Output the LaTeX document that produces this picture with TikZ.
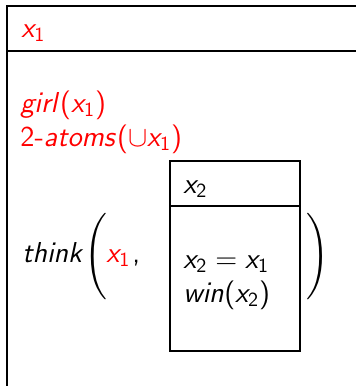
\documentclass[tikz,border=0pt]{standalone}
\usepackage{exscale}
\usepackage{tikz}
\usetikzlibrary{positioning}
% sans serif math, as on the slide
\SetSymbolFont{operators}{normal}{OT1}{cmss}{m}{n}
\SetSymbolFont{letters}{normal}{OT1}{cmss}{m}{it}
\newcommand{\tallpar}[1]{$\left#1\vcenter to 42pt{}\right.$}

\begin{document}
\begin{tikzpicture}[x=0.5pt,y=-0.5pt,
    every node/.style={inner sep=0pt,font=\fontsize{14.4}{16}\selectfont},
    cond/.style={anchor=base west},
    bigpar/.style={anchor=center},
    drsline/.style={line width=0.8pt},
    subline/.style={line width=0.6pt}]
  \useasboundingbox (0,0) rectangle (355,386);
  % main box
  \draw[drsline] (356,6) -- (7,6) -- (7,387);
  \draw[drsline] (7,51) -- (356,51);
  \node[cond,red] (ref1) at (21,37) {$x_1$};
  \node[cond,red] (girl) at (20,112) {$girl(x_1)$};
  \node[cond,red] (atoms) at (20,146) {\sffamily 2-$atoms(\cup x_1)$};
  \node[cond] (think) at (22,262) {$think$};
  \node[bigpar] (lpar) at (97,256.5) {\tallpar{(}};
  \node[cond,red] (arg) at (106,262) {$x_1$};
  \node[cond] (comma) at (132,262) {\sffamily ,};
  % embedded box
  \draw[subline] (170,161) rectangle (300,351);
  \draw[subline] (170,206) -- (300,206);
  \node[cond] (ref2) at (183,193) {$x_2$};
  \node[cond] (eq) at (183,268) {$x_2 = x_1$};
  \node[cond] (win) at (183,302) {$win(x_2)$};
  \node[bigpar] (rpar) at (319,256.5) {\tallpar{)}};
\end{tikzpicture}
\end{document}
